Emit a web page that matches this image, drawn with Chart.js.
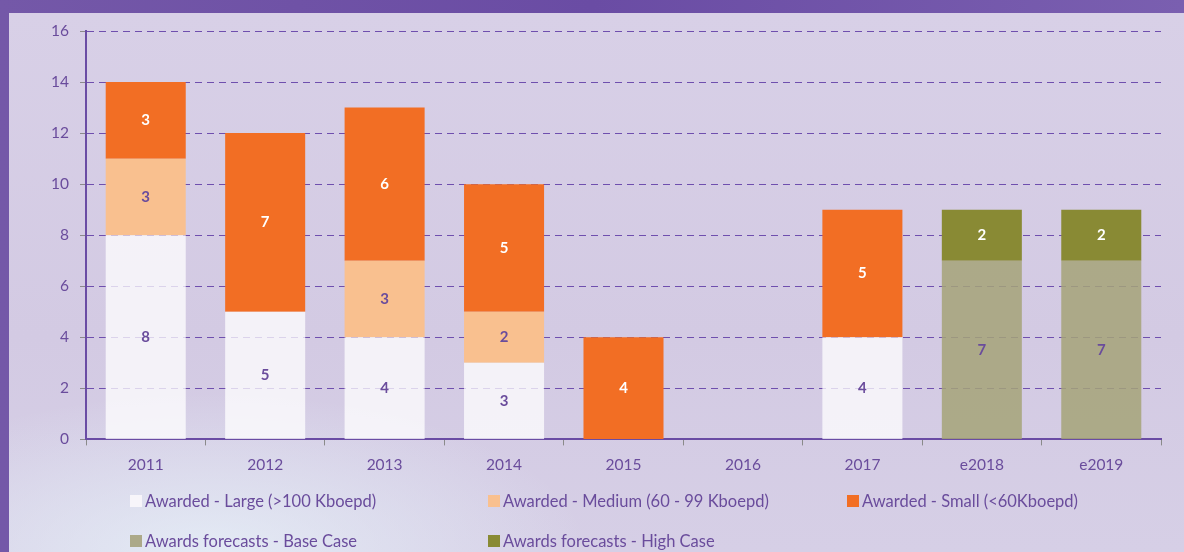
<!DOCTYPE html>
<html>
<head>
<meta charset="utf-8">
<script src="https://cdn.jsdelivr.net/npm/chart.js@4.4.1/dist/chart.umd.min.js"></script>
<style>
    html, body { margin: 0; padding: 0; }
    body {
        width: 1184px; height: 552px; overflow: hidden;
        background: linear-gradient(90deg, #7458a8 0%, #6a4ca4 50%, #7a5fb0 100%);
        font-family: Lato, "Open Sans", sans-serif;
    }
    #panel {
        position: absolute; left: 9px; top: 13px; width: 1175px; height: 539px;
        background:
            radial-gradient(ellipse 380px 160px at 200px 540px, rgba(232, 244, 250, 0.75), rgba(232, 244, 250, 0) 100%),
            linear-gradient(180deg, #d8d0e7 0%, #d3cae3 60%, #d6cfe6 100%);
    }
    #wrap { position: absolute; left: 0; top: 0; width: 1184px; height: 552px; }
    #legend { position: absolute; left: 0; top: 0; width: 1184px; height: 552px; pointer-events: none; }
    .item {
        position: absolute; display: flex; align-items: center;
        font-size: 16.5px; color: #6a4c9c; white-space: nowrap;
    }
    .item span.box { display: inline-block; width: 12px; height: 12px; margin-right: 3px; }
</style>
</head>
<body>
<div id="panel"></div>
<div id="wrap"><canvas id="chart" width="1184" height="552"></canvas></div>
<div id="legend"></div>
<script>
// Categories and series
const years = ['2011', '2012', '2013', '2014', '2015', '2016', '2017', 'e2018', 'e2019'];
const large = [8, 5, 4, 3, null, null, 4, null, null];
const medium = [3, null, 3, 2, null, null, null, null, null];
const small = [3, 7, 6, 5, 4, null, 5, null, null];
const baseCase = [null, null, null, null, null, null, null, 7, 7];
const highCase = [null, null, null, null, null, null, null, 2, 2];
const yTicks = [0, 2, 4, 6, 8, 10, 12, 14, 16];

const purple = '#6a4c9c';

const seriesDefs = [
    { label: 'Awarded - Large (>100 Kboepd)', data: large, color: 'rgba(255,255,255,0.75)', swatch: '#f7f5fa', text: purple },
    { label: 'Awarded - Medium (60 - 99 Kboepd)', data: medium, color: '#f9c08f', swatch: '#f9c08f', text: purple },
    { label: 'Awarded - Small (<60Kboepd)', data: small, color: '#f26e24', swatch: '#f26e24', text: '#ffffff' },
    { label: 'Awards forecasts - Base Case', data: baseCase, color: 'rgba(165,163,120,0.85)', swatch: '#aca989', text: purple },
    { label: 'Awards forecasts - High Case', data: highCase, color: '#898a34', swatch: '#898a34', text: '#ffffff' },
];

// Value labels in the middle of each segment
const segmentLabels = {
    id: 'segmentLabels',
    afterDatasetsDraw(chart) {
        const ctx = chart.ctx;
        ctx.save();
        ctx.font = 'bold 15px Lato, "Open Sans", sans-serif';
        ctx.textAlign = 'center';
        ctx.textBaseline = 'middle';
        chart.data.datasets.forEach((ds, i) => {
            const meta = chart.getDatasetMeta(i);
            meta.data.forEach((bar, j) => {
                const v = ds.data[j];
                if (v == null) return;
                ctx.fillStyle = seriesDefs[i].text;
                ctx.fillText(String(v), bar.x, (bar.y + bar.base) / 2);
            });
        });
        ctx.restore();
    }
};

const chart = new Chart(document.getElementById('chart'), {
    type: 'bar',
    data: {
        labels: years,
        datasets: seriesDefs.map(s => ({
            label: s.label,
            data: s.data,
            backgroundColor: s.color,
            borderWidth: 0,
            barPercentage: 0.67,
            categoryPercentage: 1.0,
        })),
    },
    options: {
        responsive: false,
        animation: false,
        layout: { padding: { top: 31, right: 23, bottom: 68, left: 0 } },
        plugins: {
            legend: { display: false },
            tooltip: { enabled: false },
        },
        scales: {
            x: {
                stacked: true,
                grid: {
                    drawOnChartArea: false,
                    drawTicks: true,
                    tickLength: 6,
                    tickColor: '#8a8a8a',
                    offset: true,
                },
                border: { color: '#6a4ca4', width: 2 },
                ticks: { color: purple, font: { size: 15.5, family: 'Lato' }, padding: 10 },
            },
            y: {
                stacked: true,
                min: 0,
                max: 16,
                afterFit(scale) { scale.width = 86; },
                afterBuildTicks(scale) { scale.ticks = yTicks.map(v => ({ value: v })); },
                grid: {
                    color: '#6f4fae',
                    lineWidth: 1,
                    tickLength: 6,
                    tickColor: '#8a8a8a',
                },
                border: { color: '#6a4ca4', width: 2, dash: [7, 5] },
                ticks: { color: purple, font: { size: 15.5, family: 'Lato' }, padding: 11 },
            },
        },
    },
    plugins: [segmentLabels],
});

// HTML legend in three fixed columns
const legendPos = [
    [130, 502], [488, 502], [847, 502],
    [130, 542], [488, 542],
];
const legend = document.getElementById('legend');
seriesDefs.forEach((s, i) => {
    const el = document.createElement('div');
    el.className = 'item';
    el.style.left = legendPos[i][0] + 'px';
    el.style.top = (legendPos[i][1] - 11) + 'px';
    el.innerHTML = '<span class="box" style="background:' + s.swatch + '"></span>';
    el.appendChild(document.createTextNode(s.label));
    legend.appendChild(el);
});
</script>
</body>
</html>
